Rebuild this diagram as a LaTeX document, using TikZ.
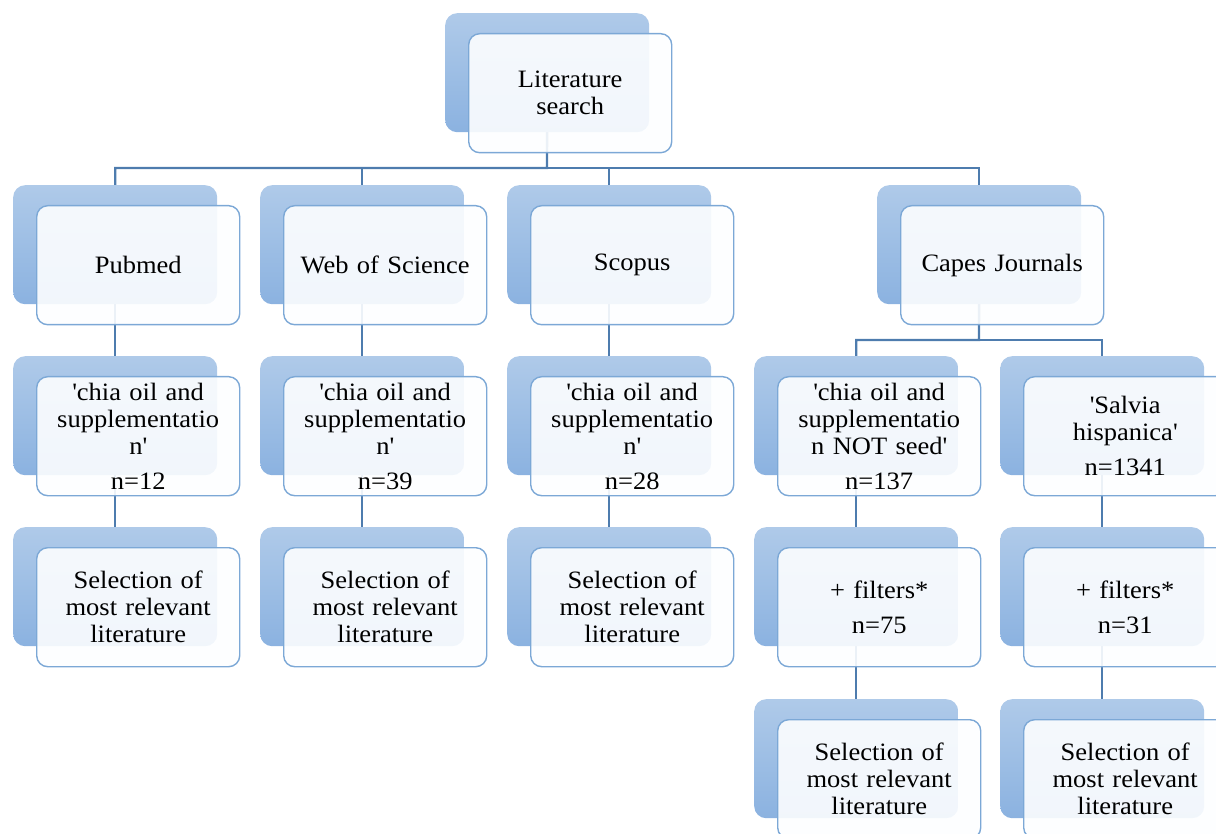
\documentclass[tikz,border=0pt]{standalone}
\usepackage{fontspec}
\setmainfont{Liberation Serif}[FakeStretch=1.06]
\usetikzlibrary{backgrounds}
\definecolor{backtop}{HTML}{AFCAE9}
\definecolor{backbot}{HTML}{8BB2E0}
\definecolor{frontline}{HTML}{7CA8D6}
\definecolor{frontfill}{HTML}{FDFEFF}
\definecolor{connc}{HTML}{4E7CAE}
\tikzset{
  backbox/.style={draw=none, top color=backtop, bottom color=backbot, rounded corners=12pt,
    minimum width=204pt, minimum height=119pt, anchor=north west, inner sep=0pt},
  frontbox/.style={draw=frontline, line width=1.4pt, fill=frontfill, fill opacity=0.9, text opacity=1,
    rounded corners=11pt, minimum width=203pt, minimum height=119pt, anchor=north west,
    inner sep=2pt, text width=196pt, align=center, font=\fontsize{25}{27}\selectfont},
  conn/.style={draw=connc, line width=2.4pt},
}
\newcommand\blk[4]{%
  \node[backbox] (#1bk) at (#2,#3) {};
  \node[frontbox] (#1) at (#2+23,#3+20) {#4};
}
\newcommand\q{\textquotesingle}
\begin{document}
\begin{tikzpicture}[x=1pt,y=-1pt]
\useasboundingbox (0,0) rectangle (1216,834);
\blk{top}{445}{13}{Literature\\search}
\blk{pub}{13}{185}{Pubmed}
\blk{wos}{260}{185}{Web of Science}
\blk{sco}{507}{185}{Scopus}
\blk{cap}{877}{185}{Capes Journals}
\blk{pubq}{13}{356}{\q chia oil and\\supplementatio\\n\q\\[8pt]n=12}
\blk{wosq}{260}{356}{\q chia oil and\\supplementatio\\n\q\\[8pt]n=39}
\blk{scoq}{507}{356}{\q chia oil and\\supplementatio\\n\q\\[8pt]n=28}
\blk{cpa}{754}{356}{\q chia oil and\\supplementatio\\n NOT seed\q\\[8pt]n=137}
\blk{cpb}{1000}{356}{\q Salvia\\hispanica\q\\[8pt]n=1341}
\blk{pubs}{13}{527}{Selection of\\most relevant\\literature}
\blk{woss}{260}{527}{Selection of\\most relevant\\literature}
\blk{scos}{507}{527}{Selection of\\most relevant\\literature}
\blk{cpaf}{754}{527}{+ filters*\\[8pt]n=75}
\blk{cpbf}{1000}{527}{+ filters*\\[8pt]n=31}
\blk{cpas}{754}{699}{Selection of\\most relevant\\literature}
\blk{cpbs}{1000}{699}{Selection of\\most relevant\\literature}
\coordinate (bus) at (547,168);
\coordinate (capbus) at (979,340);
\begin{pgfonlayer}{background}
\draw[conn] (topbk.center) -- (bus) -| (pubbk.center);
\draw[conn] (bus) -| (wosbk.center);
\draw[conn] (bus) -| (scobk.center);
\draw[conn] (bus) -| (capbk.center);
\draw[conn] (pubbk.center) -- (pubqbk.center) -- (pubsbk.center);
\draw[conn] (wosbk.center) -- (wosqbk.center) -- (wossbk.center);
\draw[conn] (scobk.center) -- (scoqbk.center) -- (scosbk.center);
\draw[conn] (capbk.center) -- (capbus) -| (cpabk.center);
\draw[conn] (capbus) -| (cpbbk.center);
\draw[conn] (cpabk.center) -- (cpafbk.center) -- (cpasbk.center);
\draw[conn] (cpbbk.center) -- (cpbfbk.center) -- (cpbsbk.center);
\end{pgfonlayer}
\end{tikzpicture}
\end{document}
